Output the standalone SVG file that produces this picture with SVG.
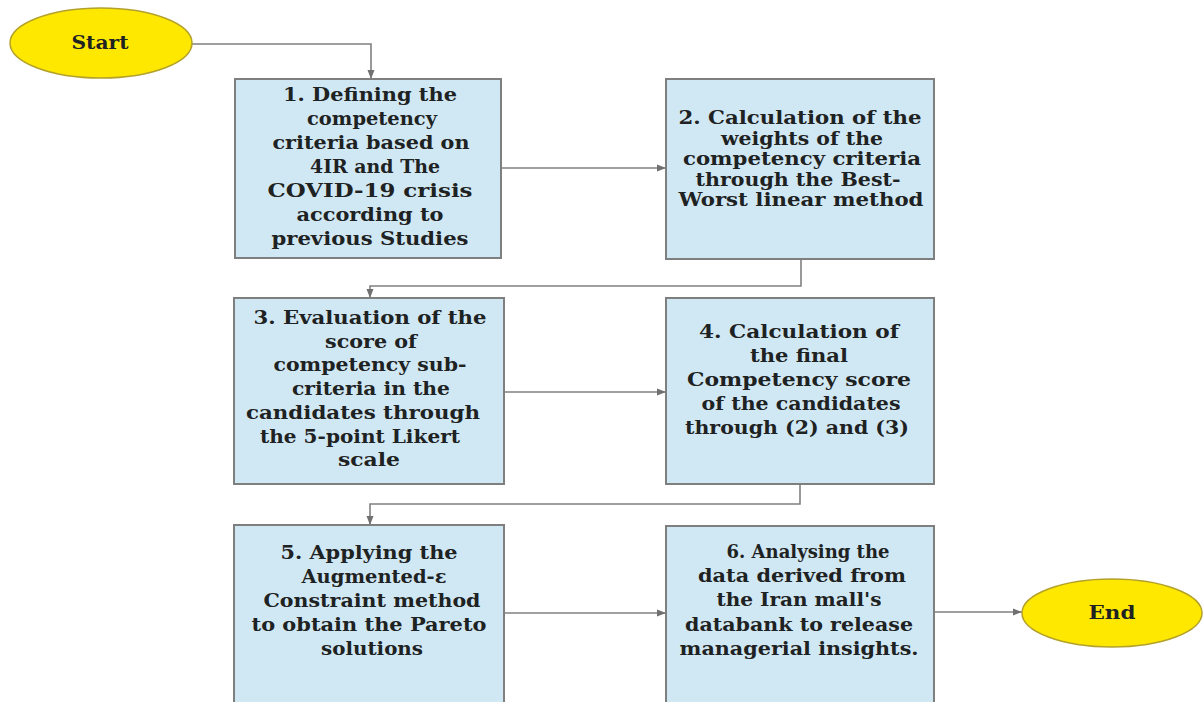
<svg xmlns="http://www.w3.org/2000/svg" width="1203" height="702" viewBox="0 0 1203 702">
<style>
.box{fill:#d0e8f4;stroke:#7f7f7f;stroke-width:2}
.term{fill:#ffe800;stroke:#b3a12a;stroke-width:1.5}
.t{font-family:"DejaVu Serif","Liberation Serif",serif;font-weight:bold;font-size:18px;fill:#1e2222;text-anchor:middle}
.conn{fill:none;stroke:#808080;stroke-width:1.6}
</style>
<defs>
<marker id="arr" markerUnits="userSpaceOnUse" markerWidth="10" markerHeight="8" refX="9" refY="4" orient="auto">
<path d="M0,0.5 L9,4 L0,7.5 z" fill="#707070"/>
</marker>
</defs>
<rect width="1203" height="702" fill="#ffffff"/>
<g id="connectors">
<path class="conn" d="M192,44 H371 V79" marker-end="url(#arr)"/>
<path class="conn" d="M501,168 H666" marker-end="url(#arr)"/>
<path class="conn" d="M801,259 V286 H370 V298" marker-end="url(#arr)"/>
<path class="conn" d="M504,392 H666" marker-end="url(#arr)"/>
<path class="conn" d="M800,484 V504 H370 V525" marker-end="url(#arr)"/>
<path class="conn" d="M504,613 H666" marker-end="url(#arr)"/>
<path class="conn" d="M934,612 H1022" marker-end="url(#arr)"/>
</g>
<g id="start">
<ellipse class="term" cx="101" cy="43" rx="91" ry="35"/>
<text class="t" x="100" y="49" textLength="57" lengthAdjust="spacingAndGlyphs">Start</text>
</g>
<g id="step1">
<rect class="box" x="235" y="79" width="266" height="179"/>
<text class="t" x="370" y="101" textLength="174" lengthAdjust="spacingAndGlyphs">1. Defining the</text>
<text class="t" x="372" y="125" textLength="130" lengthAdjust="spacingAndGlyphs">competency</text>
<text class="t" x="371" y="149" textLength="197" lengthAdjust="spacingAndGlyphs">criteria based on</text>
<text class="t" x="375" y="173" textLength="130" lengthAdjust="spacingAndGlyphs">4IR and The</text>
<text class="t" x="370" y="197" textLength="205" lengthAdjust="spacingAndGlyphs">COVID-19 crisis</text>
<text class="t" x="370" y="221" textLength="147" lengthAdjust="spacingAndGlyphs">according to</text>
<text class="t" x="370" y="245" textLength="197" lengthAdjust="spacingAndGlyphs">previous Studies</text>
</g>
<g id="step2">
<rect class="box" x="666" y="79" width="268" height="180"/>
<text class="t" x="800" y="124" textLength="243" lengthAdjust="spacingAndGlyphs">2. Calculation of the</text>
<text class="t" x="802" y="144.5" textLength="162" lengthAdjust="spacingAndGlyphs">weights of the</text>
<text class="t" x="802" y="165" textLength="238" lengthAdjust="spacingAndGlyphs">competency criteria</text>
<text class="t" x="798" y="185.5" textLength="205" lengthAdjust="spacingAndGlyphs">through the Best-</text>
<text class="t" x="801" y="206" textLength="245" lengthAdjust="spacingAndGlyphs">Worst linear method</text>
</g>
<g id="step3">
<rect class="box" x="234" y="298" width="270" height="186"/>
<text class="t" x="370" y="324" textLength="233" lengthAdjust="spacingAndGlyphs">3. Evaluation of the</text>
<text class="t" x="371" y="347.7" textLength="92" lengthAdjust="spacingAndGlyphs">score of</text>
<text class="t" x="370" y="371.4" textLength="193" lengthAdjust="spacingAndGlyphs">competency sub-</text>
<text class="t" x="371" y="395" textLength="158" lengthAdjust="spacingAndGlyphs">criteria in the</text>
<text class="t" x="363" y="418.8" textLength="234" lengthAdjust="spacingAndGlyphs">candidates through</text>
<text class="t" x="360" y="442.5" textLength="200" lengthAdjust="spacingAndGlyphs">the 5-point Likert</text>
<text class="t" x="369" y="466" textLength="62" lengthAdjust="spacingAndGlyphs">scale</text>
</g>
<g id="step4">
<rect class="box" x="666" y="298" width="268" height="186"/>
<text class="t" x="799" y="338" textLength="200" lengthAdjust="spacingAndGlyphs">4. Calculation of</text>
<text class="t" x="799" y="362" textLength="98" lengthAdjust="spacingAndGlyphs">the final</text>
<text class="t" x="799" y="386" textLength="224" lengthAdjust="spacingAndGlyphs">Competency score</text>
<text class="t" x="801" y="410" textLength="199" lengthAdjust="spacingAndGlyphs">of the candidates</text>
<text class="t" x="797" y="434" textLength="224" lengthAdjust="spacingAndGlyphs">through (2) and (3)</text>
</g>
<g id="step5">
<rect class="box" x="234" y="525" width="270" height="190"/>
<text class="t" x="369" y="559" textLength="177" lengthAdjust="spacingAndGlyphs">5. Applying the</text>
<text class="t" x="374" y="583" textLength="145" lengthAdjust="spacingAndGlyphs">Augmented-ε</text>
<text class="t" x="372" y="607" textLength="217" lengthAdjust="spacingAndGlyphs">Constraint method</text>
<text class="t" x="369" y="631" textLength="235" lengthAdjust="spacingAndGlyphs">to obtain the Pareto</text>
<text class="t" x="372" y="655" textLength="102" lengthAdjust="spacingAndGlyphs">solutions</text>
</g>
<g id="step6">
<rect class="box" x="666" y="526" width="268" height="190"/>
<text class="t" x="808" y="558" textLength="163" lengthAdjust="spacingAndGlyphs">6. Analysing the</text>
<text class="t" x="802" y="582" textLength="208" lengthAdjust="spacingAndGlyphs">data derived from</text>
<text class="t" x="799" y="606" textLength="165" lengthAdjust="spacingAndGlyphs">the Iran mall's</text>
<text class="t" x="799" y="631" textLength="228" lengthAdjust="spacingAndGlyphs">databank to release</text>
<text class="t" x="799" y="655" textLength="239" lengthAdjust="spacingAndGlyphs">managerial insights.</text>
</g>
<g id="end">
<ellipse class="term" cx="1112" cy="613" rx="90" ry="34"/>
<text class="t" x="1112" y="619" textLength="47" lengthAdjust="spacingAndGlyphs">End</text>
</g>
</svg>
